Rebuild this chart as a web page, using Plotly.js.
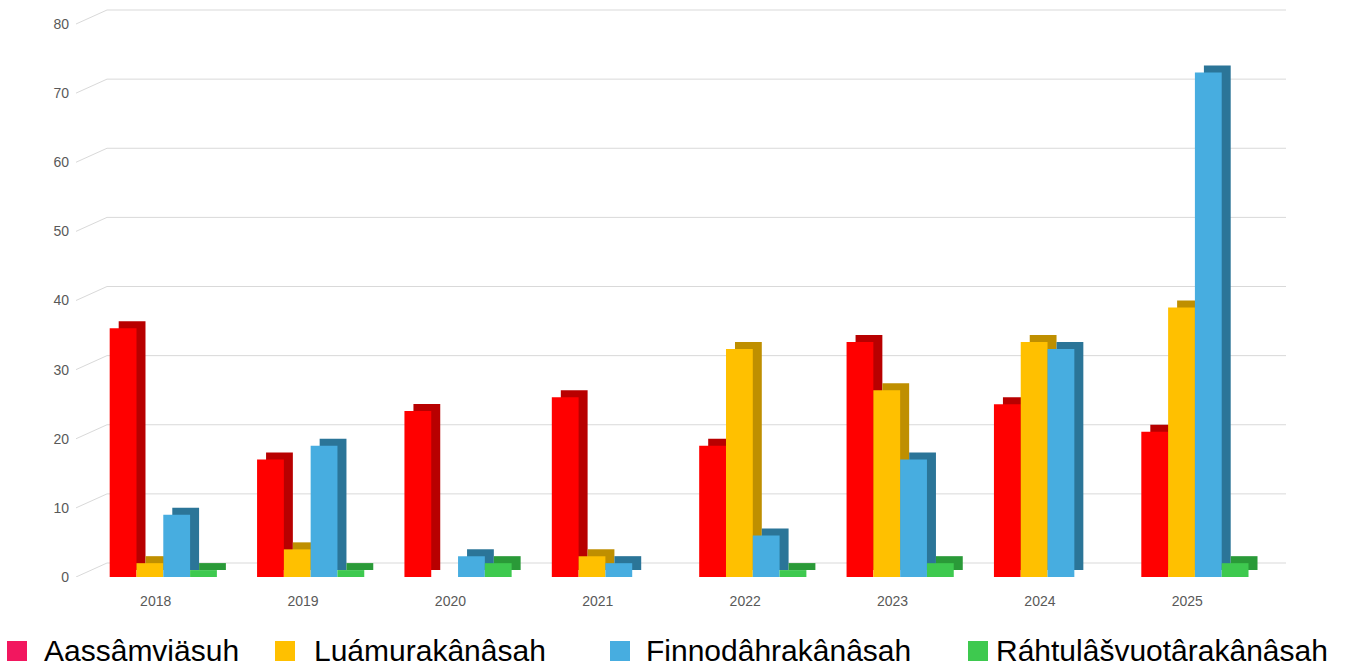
<!DOCTYPE html>
<html>
<head>
<meta charset="utf-8">
<script src="https://cdn.plot.ly/plotly-3.0.1.min.js"></script>
<style>
  html, body { margin: 0; padding: 0; background: #ffffff; }
  #chart { width: 1357px; height: 668px; }
</style>
</head>
<body>
<div id="chart"></div>
<script>
// ---- data ----
const years = ['2018', '2019', '2020', '2021', '2022', '2023', '2024', '2025'];
const seriesNames = ['Aassâmviäsuh', 'Luámurakânâsah', 'Finnodâhrakânâsah', 'Ráhtulâšvuotârakânâsah'];
const aassamviasuh = [36, 17, 24, 26, 19, 34, 25, 21];
const luamurakanasah = [2, 4, 0, 3, 33, 27, 34, 39];
const finnodahrakanasah = [9, 19, 3, 2, 6, 17, 33, 73];
const rahtulasvuotarakanasah = [1, 1, 2, 0, 1, 2, 0, 2];
const yTicks = [0, 10, 20, 30, 40, 50, 60, 70, 80];

// ---- style ----
const W = 1357, H = 668;
const seriesValues = [aassamviasuh, luamurakanasah, finnodahrakanasah, rahtulasvuotarakanasah];
const frontColors = ['#ff0000', '#ffc000', '#47ade0', '#3ec94f'];
const sideColors  = ['#b80000', '#bf8f00', '#2b7598', '#2a9a38'];
const legendColors = ['#f2175f', '#ffc000', '#47ade0', '#3ec94f'];

const frontLeft = 82, frontRight = 1261, frontTop = 24, frontBottom = 577, plotTop = 8;
const backShiftX = 25, backShiftY = 14;
const yMax = 80;
const unitPx = (frontBottom - frontTop) / yMax;
const rangeTop = (frontBottom - plotTop) / unitPx;
const catPx = (frontRight - frontLeft) / years.length;
const barW = 26.8 / catPx;
const firstOffset = -46 / catPx;
const depthX = 9 / catPx;
const depthY = 7 / unitPx;
const backY = backShiftY / unitPx;

const traces = [];
seriesValues.forEach((vals, i) => {
  const off = firstOffset + i * barW;
  // depth (side + top) face, drawn behind the front face
  traces.push({
    type: 'bar', x: years, y: vals, base: depthY,
    offset: off + depthX, width: barW,
    marker: { color: sideColors[i], line: { width: 0 } },
    showlegend: false, hoverinfo: 'skip'
  });
  // front face
  traces.push({
    type: 'bar', x: years, y: vals, name: seriesNames[i],
    offset: off, width: barW,
    marker: { color: frontColors[i], line: { width: 0 } },
    showlegend: false, hoverinfo: 'x+y+name'
  });
});

const shapes = [];
// back-wall gridlines and diagonal connectors from the tick labels
yTicks.forEach(v => {
  shapes.push({
    type: 'line', layer: 'below', xref: 'paper', yref: 'y',
    x0: (frontLeft + backShiftX) / W, x1: (frontRight + backShiftX) / W,
    y0: v + backY, y1: v + backY,
    line: { color: '#d9d9d9', width: 1 }
  });
  shapes.push({
    type: 'line', layer: 'below', xref: 'paper', yref: 'y',
    x0: (frontLeft - 6) / W, x1: (frontLeft + backShiftX) / W,
    y0: v, y1: v + backY,
    line: { color: '#d9d9d9', width: 1 }
  });
});

// custom legend
const legendSquareX = [7, 275, 610, 968];
const legendTextX = [43, 313, 645, 995];
const annotations = [];
seriesNames.forEach((name, i) => {
  shapes.push({
    type: 'rect', xref: 'paper', yref: 'paper', layer: 'above',
    x0: legendSquareX[i] / W, x1: (legendSquareX[i] + 20) / W,
    y0: (H - 661) / H, y1: (H - 641) / H,
    fillcolor: legendColors[i], line: { width: 0 }
  });
  annotations.push({
    xref: 'paper', yref: 'paper',
    x: legendTextX[i] / W, y: 0,
    xanchor: 'left', yanchor: 'bottom',
    text: name, showarrow: false, borderpad: 0,
    font: { family: 'Liberation Sans, Arial, sans-serif', size: 30, color: '#000000' }
  });
});

const layout = {
  width: W, height: H,
  margin: { l: 0, r: 0, t: 0, b: 0, pad: 0 },
  paper_bgcolor: '#ffffff',
  plot_bgcolor: '#ffffff',
  showlegend: false,
  barmode: 'overlay',
  font: { family: 'Liberation Sans, Arial, sans-serif', color: '#595959' },
  xaxis: {
    domain: [frontLeft / W, frontRight / W],
    type: 'category', categoryorder: 'array', categoryarray: years,
    range: [-0.5, years.length - 0.5],
    showgrid: false, zeroline: false, showline: false, ticks: '',
    tickfont: { size: 14, color: '#595959' }, ticklabelstandoff: 14,
    fixedrange: true
  },
  yaxis: {
    domain: [(H - frontBottom) / H, (H - plotTop) / H],
    range: [0, rangeTop], tickvals: yTicks, ticktext: yTicks.map(String),
    showgrid: false, zeroline: false, showline: false, ticks: '',
    tickfont: { size: 14, color: '#595959' }, ticklabelstandoff: 12,
    fixedrange: true
  },
  shapes: shapes,
  annotations: annotations
};

Plotly.newPlot('chart', traces, layout, { displayModeBar: false, staticPlot: true });
</script>
</body>
</html>
